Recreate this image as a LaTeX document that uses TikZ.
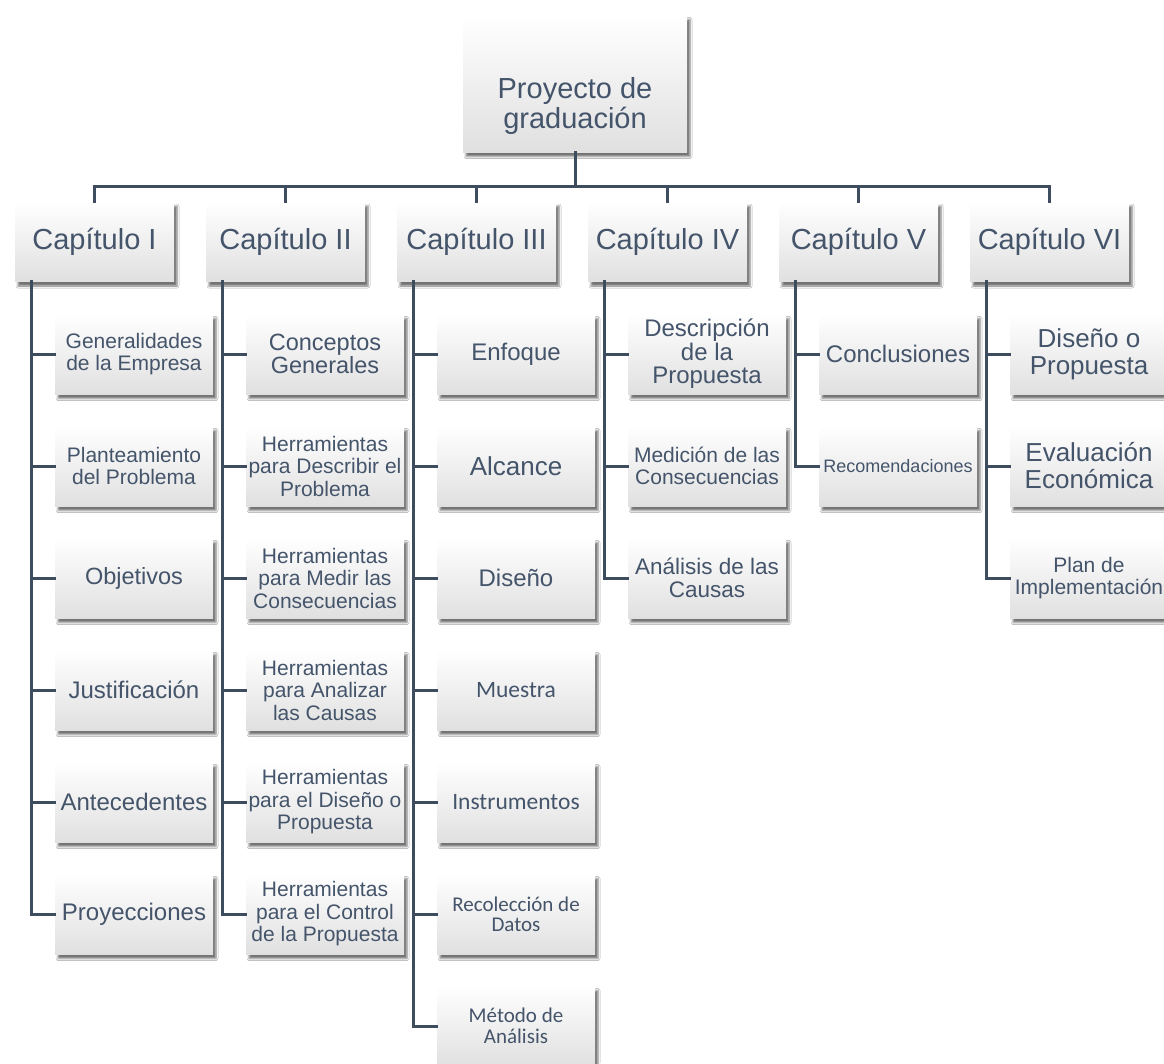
\documentclass[tikz,border=0pt]{standalone}
\usepackage{fontspec}
\setmainfont{Liberation Sans}
\newfontfamily\calib{Carlito}
\usetikzlibrary{shadows.blur}
\definecolor{txt}{HTML}{44546A}
\definecolor{ln}{HTML}{3E4C5F}
\definecolor{boxbot}{HTML}{E0E0E0}
\newcommand{\fs}[2]{\fontsize{#1}{#2}\selectfont}
\tikzset{
  card/.style={rectangle, inner sep=0pt, text=txt, align=center,
    top color=white, middle color=white, bottom color=boxbot,
    blur shadow={shadow xshift=3pt, shadow yshift=-4.5pt, shadow blur radius=2pt, shadow opacity=55}},
  rootbox/.style={card, minimum width=224pt, minimum height=137pt},
  chap/.style={card, minimum width=159pt, minimum height=80pt, font=\fs{29}{29}},
  kid/.style={card, minimum width=158pt, minimum height=80pt},
  plain/.style={inner sep=0pt, text=txt, align=center},
  conn/.style={draw=ln, line width=3pt, line cap=rect}
}
\begin{document}
\begin{tikzpicture}[x=1pt, y=-1pt]
\clip (0,0) rectangle (1164,1063);
\fill[white] (0,0) rectangle (1164,1063);

% root
\node[rootbox] (root) at (575,83.5) {};
\node[plain, font=\fs{29}{29}] (roottext) at (575,106) {Proyecto de\\graduación};

% chapters
\node[chap] (c1) at (94.5,241.5) {Capítulo I};
\node[chap] (c2) at (285.5,241.5) {Capítulo II};
\node[chap] (c3) at (476.5,241.5) {Capítulo III};
\node[chap] (c4) at (667.5,241.5) {Capítulo IV};
\node[chap] (c5) at (858.5,241.5) {Capítulo V};
\node[chap] (c6) at (1049.5,241.5) {Capítulo VI};

% column I
\node[kid, font=\fs{21}{22}] (k11) at (134,354) {Generalidades\\de la Empresa};
\node[kid, font=\fs{21}{22}] (k12) at (134,466) {Planteamiento\\del Problema};
\node[kid, font=\fs{23.5}{24}] (k13) at (134,578) {Objetivos};
\node[kid, font=\fs{24}{24}] (k14) at (134,690) {Justificación};
\node[kid, font=\fs{24}{24}] (k15) at (134,802) {Antecedentes};
\node[kid, font=\fs{24}{24}] (k16) at (134,914) {Proyecciones};

% column II
\node[kid, font=\fs{23.5}{23.5}] (k21) at (325,354) {Conceptos\\Generales};
\node[kid, font=\fs{21}{22.5}] (k22) at (325,466) {Herramientas\\para Describir el\\Problema};
\node[kid, font=\fs{21}{22.5}] (k23) at (325,578) {Herramientas\\para Medir las\\Consecuencias};
\node[kid, font=\fs{21}{22.5}] (k24) at (325,690) {Herramientas\\para Analizar\\las Causas};
\node[kid, font=\fs{21}{22.5}] (k25) at (325,802) {Herramientas\\para el Diseño o\\Propuesta};
\node[kid, font=\fs{21}{22.5}] (k26) at (325,914) {Herramientas\\para el Control\\de la Propuesta};

% column III
\node[kid, font=\fs{24}{24}] (k31) at (516,354) {Enfoque};
\node[kid, font=\fs{26}{26}] (k32) at (516,466) {Alcance};
\node[kid, font=\fs{24}{24}] (k33) at (516,578) {Diseño};
\node[kid, font=\calib\fs{23.5}{24}] (k34) at (516,690) {Muestra};
\node[kid, font=\calib\fs{23.5}{24}] (k35) at (516,802) {Instrumentos};
\node[kid, font=\calib\fs{21}{20}] (k36) at (516,914) {Recolección de\\Datos};
\node[kid, font=\calib\fs{21}{21.5}] (k37) at (516,1026) {Método de\\Análisis};

% column IV
\node[kid, font=\fs{24}{23.5}] (k41) at (707,354) {Descripción\\de la\\Propuesta};
\node[kid, font=\fs{21}{22}] (k42) at (707,466) {Medición de las\\Consecuencias};
\node[kid, font=\fs{22.5}{23.3}] (k43) at (707,578) {Análisis de las\\Causas};

% column V
\node[kid, font=\fs{24}{24}] (k51) at (898,354) {Conclusiones};
\node[kid, font=\fs{18}{18}] (k52) at (898,466) {Recomendaciones};

% column VI
\node[kid, font=\fs{26}{26.7}] (k61) at (1089,354) {Diseño o\\Propuesta};
\node[kid, font=\fs{26}{27}] (k62) at (1089,466) {Evaluación\\Económica};
\node[kid, font=\fs{21}{22}] (k63) at (1089,578) {Plan de\\Implementación};

% bus
\coordinate (bus) at (575,186);
\draw[conn] (root.south) -- (bus);
\draw[conn] (c1.north) -- (c1.north |- bus) -- (c6.north |- bus) -- (c6.north);
\foreach \c in {c2,c3,c4,c5}{\draw[conn] (\c.north) -- (\c.north |- bus);}

% column connectors
\foreach \c/\last/\kids in {c1/k16/{k11,k12,k13,k14,k15},
                             c2/k26/{k21,k22,k23,k24,k25},
                             c3/k37/{k31,k32,k33,k34,k35,k36},
                             c4/k43/{k41,k42},
                             c5/k52/{k51},
                             c6/k63/{k61,k62}}{
  \draw[conn] ([xshift=17pt]\c.south west) |- (\last.west);
  \foreach \k in \kids {\draw[conn] ([xshift=17pt]\c.south west |- \k.west) -- (\k.west);}
}
\end{tikzpicture}
\end{document}
